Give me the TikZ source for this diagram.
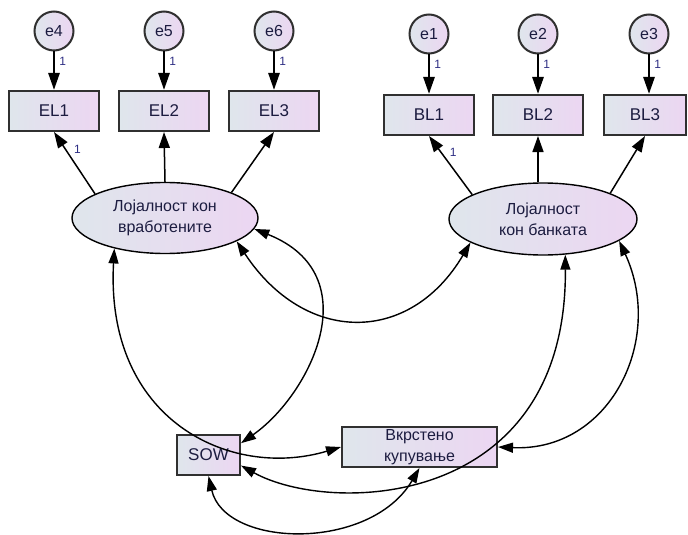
\documentclass[tikz,border=0pt]{standalone}
\usepackage{fontspec}
\setmainfont{Liberation Sans}
\usetikzlibrary{arrows.meta,shapes.geometric}

\definecolor{fillL}{HTML}{DFE6EC}
\definecolor{fillR}{HTML}{ECD6F2}
\definecolor{txt}{HTML}{1C1C40}
\definecolor{wt}{HTML}{2E2E84}
\definecolor{rim}{HTML}{303030}

\begin{document}
\begin{tikzpicture}[x=1pt,y=-1pt,
  shade lr/.style={left color=fillL,right color=fillR},
  obs/.style={shade lr,draw=rim,line width=2pt,minimum width=90pt,minimum height=40pt,
    inner sep=0pt,align=center,text=txt,font=\fontsize{17}{20}\selectfont},
  err/.style={shade lr,circle,draw=rim,line width=2pt,minimum size=39pt,inner sep=0pt,
    text=txt,font=\fontsize{16}{20}\selectfont},
  lat/.style={shade lr,ellipse,draw=black,line width=1.4pt,minimum width=186pt,minimum height=71pt,
    inner sep=0pt,align=center,text=txt,font=\fontsize{16}{21}\selectfont},
  wlab/.style={text=wt,font=\fontsize{12}{13}\selectfont,inner sep=0pt},
  errarrow/.style={line width=2.6pt,-{Triangle[length=17pt,width=11pt]}},
  load/.style={line width=1.5pt,-{Triangle[length=16pt,width=11pt]}},
  cov/.style={line width=1.4pt,{Triangle[length=15pt,width=10pt]}-{Triangle[length=15pt,width=10pt]}}]

\useasboundingbox (0,0) rectangle (688,535);

% error terms
\node[err] (e4) at (54,31) {e4};
\node[err] (e5) at (164,31) {e5};
\node[err] (e6) at (274,31) {e6};
\node[err] (e1) at (429,34) {e1};
\node[err] (e2) at (538,34) {e2};
\node[err] (e3) at (649,34) {e3};

% indicators
\node[obs] (EL1) at (54,111) {EL1};
\node[obs] (EL2) at (164,111) {EL2};
\node[obs] (EL3) at (274,111) {EL3};
\node[obs] (BL1) at (429,115) {BL1};
\node[obs] (BL2) at (538,115) {BL2};
\node[obs,minimum width=82pt] (BL3) at (645,115) {BL3};

% latent factors
\node[lat] (ellL) at (165,218) {Лојалност кон\\вработените};
\node[lat,minimum width=188pt,minimum height=72pt] (ellR) at (543,219) {Лојалност\\кон банката};

% observed outcomes
\node[obs,minimum width=63pt] (sow) at (208.5,455) {SOW};
\node[obs,minimum width=155pt,font=\fontsize{16}{21}\selectfont] (cross) at (419.5,447) {Вкрстено\\купување};

% error paths
\draw[errarrow] (e4) -- (EL1) node[wlab,pos=0.25,right=4pt] (w4) {1};
\draw[errarrow] (e5) -- (EL2) node[wlab,pos=0.25,right=4pt] (w5) {1};
\draw[errarrow] (e6) -- (EL3) node[wlab,pos=0.25,right=4pt] (w6) {1};
\draw[errarrow] (e1) -- (BL1) node[wlab,pos=0.25,right=4pt] (w1) {1};
\draw[errarrow] (e2) -- (BL2) node[wlab,pos=0.25,right=4pt] (w2) {1};
\draw[errarrow] (e3.south) -- (e3.south |- BL3.north) node[wlab,pos=0.25,right=4pt] (w3) {1};

% factor loadings
\draw[load] (ellL.161) -- (EL1.south) node[wlab,pos=0.72,right=8pt] (wEL1) {1};
\draw[load] (ellL.north) -- (EL2.south);
\draw[load] (ellL.21) -- (EL3.south);
\draw[load] (ellR.161) -- (BL1.south) node[wlab,pos=0.72,right=8pt] (wBL1) {1};
\draw[load] (BL2.south |- ellR.north) -- (BL2.south);
\draw[load] (ellR.21) -- (BL3.south);

% covariances
\draw[cov] (ellL.-18) .. controls (305,345) and (410,345) .. (ellR.198);
\draw[cov] (ellL.-7) .. controls (370,275) and (310,395) .. (sow.20);
\draw[cov] (ellL.211) .. controls (105,420) and (230,480) .. (cross.west);
\draw[cov] (ellR.-58) .. controls (567,510) and (330,515) .. (sow.-18);
\draw[cov] (ellR.-16) .. controls (665,340) and (610,452) .. (cross.east);
\draw[cov] (sow.south) .. controls (225,548) and (370,552) .. (cross.south);
\end{tikzpicture}
\end{document}
